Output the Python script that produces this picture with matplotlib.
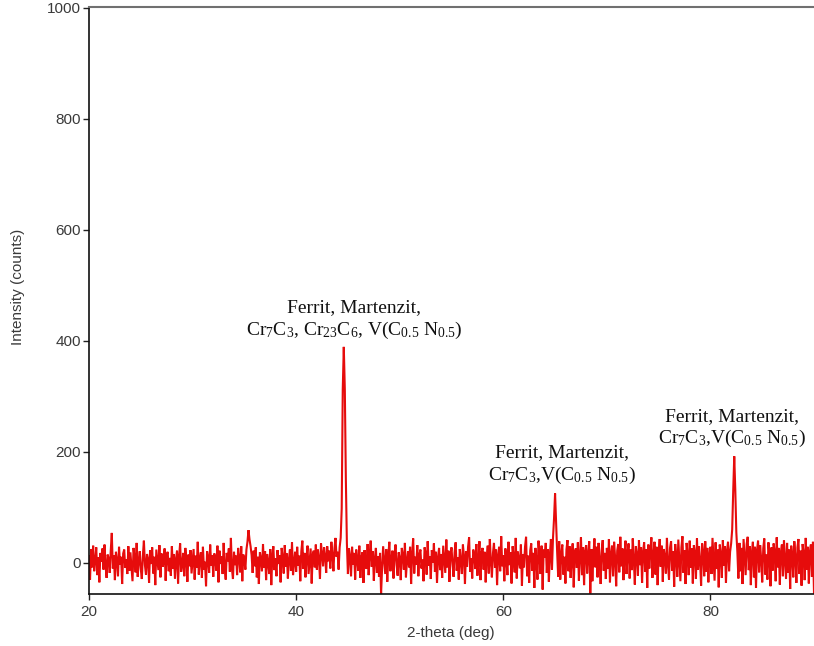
import numpy as np
import matplotlib
matplotlib.use("Agg")
import matplotlib.pyplot as plt

# 2-theta scan from 20 to 90 deg in 0.1 deg steps
two_theta_start = 20.0
two_theta_step = 0.1

# Measured intensity (counts), one row per 2 deg
intensity = [
    12, -30, 25, -8, 31, -15, 4, 28, -22, 10, -35, 18, 2, 26, -12, 33, -5, -27, 15, 8,
    -18, 22, 54, -10, 14, -31, 20, 5, -24, 29, -3, 11, -38, 17, 24, -9, 6, -20, 30, -14,
    19, -6, -33, 27, 9, -17, 36, -25, 3, 21, -11, -29, 13, 40, -4, -21, 16, 7, -36, 23,
    -2, 28, -19, 11, -40, 24, 5, -13, 32, -26, 17, -7, 1, 26, -32, 14, 20, -15, 9, -23,
    30, -10, 16, -28, 6, 22, -37, 12, 35, -16, -3, 18, -24, 27, 8, -34, 15, -6, 23, -19,
    4, 25, -30, 13, -9, 38, -21, 7, 19, -27, 29, -12, 2, -42, 21, 10, -18, 33, -5, 14,
    -25, 17, 6, -14, 31, -35, 22, -2, 12, -20, 36, -8, -30, 18, 3, 26, -16, 45, -11, -29,
    20, -4, 13, -22, 27, 9, -17, 30, -33, 15, 5, -12, 24, 38, 59, 42, 30, 14, -18, 22,
    -6, 28, -26, 11, -38, 19, 7, -15, 34, -9, 21, -31, 16, 2, -20, 25, -40, 12, 30, -13,
    8, -24, 23, -2, 14, -35, 27, 10, -19, 32, -7, 17, -28, 6, 24, -14, 37, -22, 1, 20,
    -16, 29, -5, 13, -33, 21, 40, -11, 18, -26, 9, 31, -20, 4, 26, -37, 15, 22, -8, 33,
    -12, 24, 8, -29, 35, 17, -6, 28, 12, -18, 30, 3, 22, -10, 38, 14, -15, 26, 45, 11,
    20, -12, 28, 45, 98, 312, 389, 312, 150, 35, -20, 26, 12, -24, 29, -3, 18, -30, 24, 6,
    -14, 31, -27, 10, 19, -36, 23, 5, -11, 34, -22, 15, 40, -7, 21, -32, 8, 27, -18, 12,
    -25, 18, -56, -9, 30, 4, -20, 25, -34, 13, 38, -15, 7, 22, -28, 16, 33, -4, -23, 19,
    9, -31, 27, 14, -12, 36, -26, 3, 21, -8, 29, -38, 17, 44, -19, 11, -3, 32, -24, 15,
    24, -10, 6, -33, 28, 18, -21, 39, -5, 12, -29, 23, 1, 35, -16, 20, -36, 9, 27, -13,
    16, -27, 31, 7, -18, 42, -8, 22, -34, 14, 28, -2, -25, 19, 37, -14, 10, -30, 25, 4,
    -20, 33, 12, -38, 21, -7, 29, 46, -16, 8, -28, 24, 15, -11, 34, -23, 5, 39, -31, 18,
    27, -12, 20, -35, 10, 31, -19, 43, 2, -26, 17, 36, -9, 24, -40, 13, 29, -15, 48, -6,
    14, -33, 26, 9, -22, 38, -4, 19, -37, 30, 11, -17, 45, -28, 21, 6, -10, 33, -41, 16,
    -8, 29, 47, -24, 13, -36, 22, 35, -14, 18, -45, 27, 4, -30, 40, 12, -20, 31, -48, 24,
    10, 36, -18, 25, -34, 15, 43, -12, 45, 80, 125, 70, 20, -25, 39, -30, 17, 33, -21, 11,
    -37, 24, 41, -15, 30, -27, 8, 35, -44, 19, 26, -9, 37, -32, 14, 46, -22, 28, -40, 21,
    32, -19, 17, 39, -55, 25, -33, 12, 44, -8, 29, -26, 36, 6, -38, 23, 41, -14, 18, -29,
    27, -11, 43, -35, 16, 31, -24, 38, 9, -42, 22, 34, -17, 47, -6, 26, -31, 13, 40, -20,
    19, 35, -28, 24, -13, 44, 7, -39, 30, 15, -23, 41, -4, 28, -36, 20, 37, -16, 25, -45,
    33, -10, 22, 46, -27, 14, 38, -21, 29, -40, 17, 43, -7, 31, -34, 25, 10, -19, 45, -2,
    -30, 27, 39, -14, 21, -43, 34, 12, -25, 42, 6, -33, 28, 48, -18, 23, -38, 36, 15, -22,
    40, -9, 26, -37, 32, 18, -29, 44, -12, 30, 3, -41, 35, 20, -24, 39, -16, 27, -35, 13,
    29, -20, 45, 8, -32, 37, -11, 24, -44, 33, 16, -27, 41, -5, 30, -36, 22, 38, -15, 20,
    35, 60, 130, 192, 132, 55, 20, -28, 36, -15, 27, -38, 43, 11, -22, 34, 47, -13, 30, -40,
    18, 38, -26, 29, -45, 23, 40, -17, 32, 8, -35, 26, 44, -21, 15, -30, 37, 12, -42, 28,
    -14, 35, 21, -33, 46, -8, 27, -39, 19, 33, -24, 41, 5, -29, 36, -18, 24, -47, 31, 14,
    -26, 39, 10, -36, 28, 43, -20, 22, -41, 34, 17, -31, 45, -12, 29, -37, 20, 33, -25, 38,
    -54,
]

# Phase labels: (2-theta centre, line 1 height, line 2 height, line 1, line 2)
label_x = [45.6, 65.65, 82.1]
label_y1 = [460, 198, 263]
label_y2 = [419, 158, 225]
label_line1 = ["Ferrit, Martenzit,", "Ferrit, Martenzit,", "Ferrit, Martenzit,"]
label_line2 = [
    r"Cr$_7$C$_3$, Cr$_{23}$C$_6$, V(C$_{0.5}$ N$_{0.5}$)",
    r"Cr$_7$C$_3$,V(C$_{0.5}$ N$_{0.5}$)",
    r"Cr$_7$C$_3$,V(C$_{0.5}$ N$_{0.5}$)",
]

x_ticks = [20, 40, 60, 80]
y_ticks = [0, 200, 400, 600, 800, 1000]

plt.rcParams["font.family"] = ["Liberation Sans", "DejaVu Sans"]
plt.rcParams["mathtext.default"] = "regular"

two_theta = two_theta_start + two_theta_step * np.arange(len(intensity))

fig = plt.figure(figsize=(8.14, 6.46), dpi=100)
ax = fig.add_axes([89 / 814, 52 / 646, 725 / 814, 587 / 646])

ax.plot(two_theta, intensity, color="#e60c0c", lw=1.5, solid_joinstyle="miter")

ax.set_xlim(20, 90)
ax.set_ylim(-56, 1001)
ax.set_xticks(x_ticks)
ax.set_yticks(y_ticks)

tick_color = "#3a3a3a"
ax.tick_params(axis="both", direction="out", length=4, width=1, colors="#222222",
               labelcolor=tick_color, labelsize=11, pad=2)
ax.tick_params(axis="x", pad=4)

ax.spines["right"].set_visible(False)
ax.spines["top"].set_color("#707070")
ax.spines["top"].set_linewidth(1.5)
for side in ("left", "bottom"):
    ax.spines[side].set_color("#111111")
    ax.spines[side].set_linewidth(1.2)

fig.text(18 / 814, 1 - 287 / 646, "Intensity (counts)", rotation=90,
         ha="center", va="center", fontsize=11, color=tick_color)
fig.text(451 / 814, 1 - 633 / 646, "2-theta (deg)",
         ha="center", va="center", fontsize=11, color=tick_color)

for xc, y1, y2, t1, t2 in zip(label_x, label_y1, label_y2, label_line1, label_line2):
    ax.text(xc, y1, t1, ha="center", va="center", fontsize=14,
            family=["Liberation Serif", "DejaVu Serif"], color="#111111")
    ax.text(xc, y2, t2, ha="center", va="center", fontsize=14,
            family=["Liberation Serif", "DejaVu Serif"], color="#111111")

fig.savefig("out.png", dpi=100)
